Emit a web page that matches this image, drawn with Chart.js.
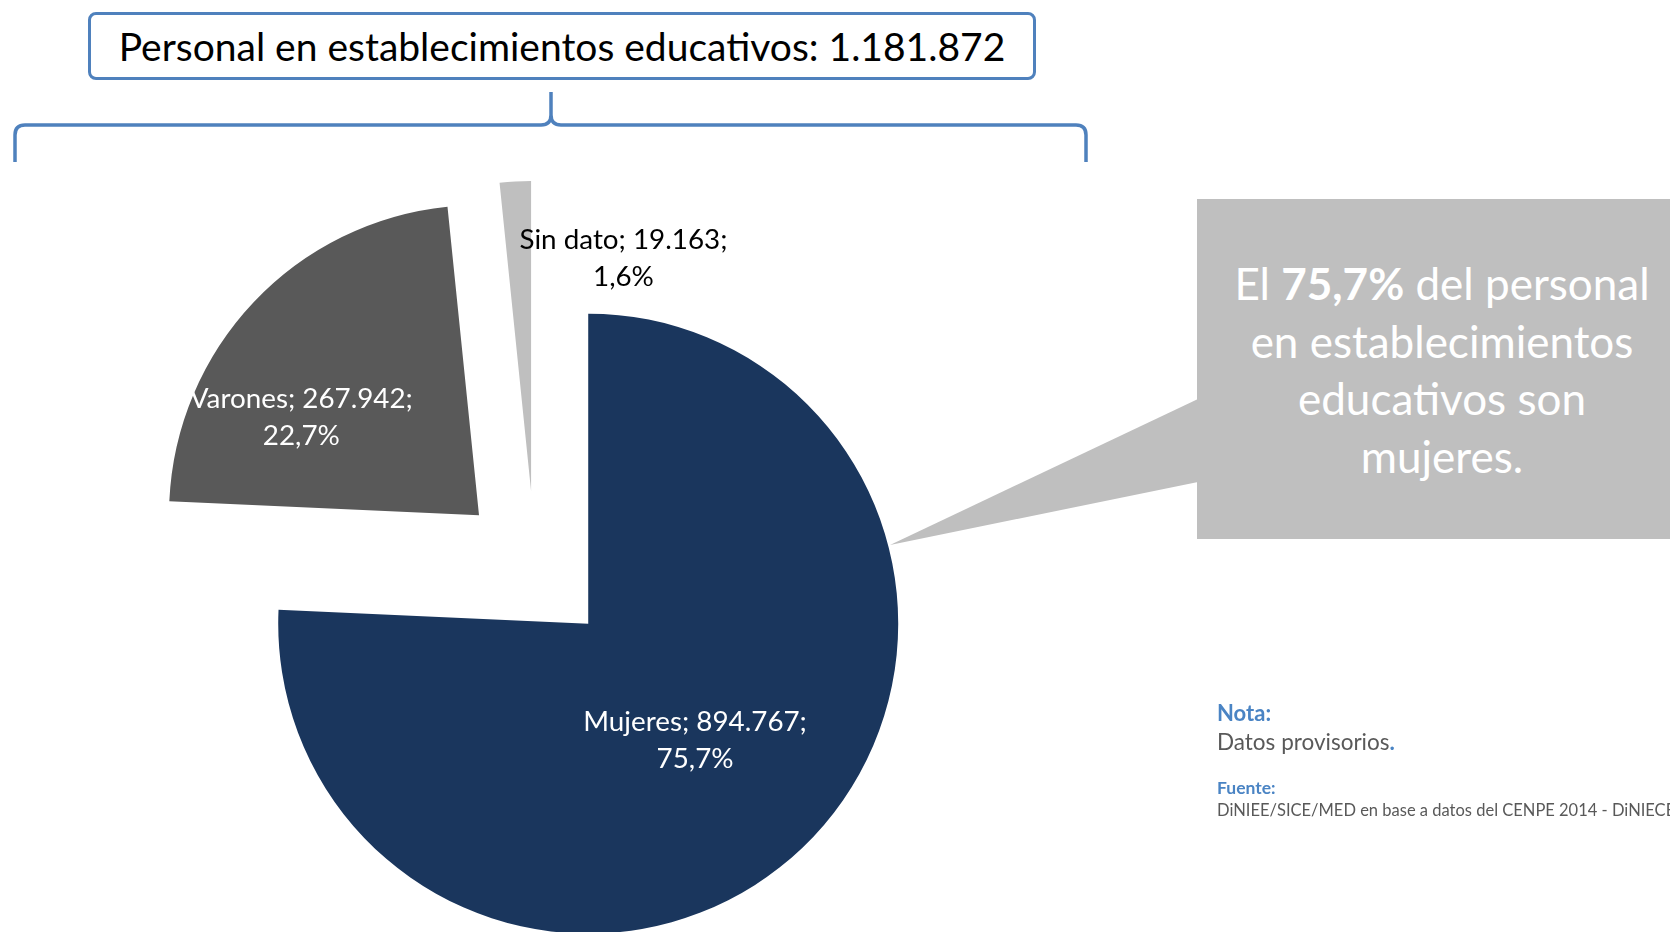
<!DOCTYPE html>
<html lang="es">
<head>
<meta charset="utf-8">
<title>Personal en establecimientos educativos</title>
<script src="https://cdn.jsdelivr.net/npm/chart.js@4.4.0/dist/chart.umd.min.js"></script>
<style>
    html, body { margin: 0; padding: 0; background: #fff; }
    body { width: 1670px; height: 932px; position: relative; overflow: hidden; font-family: Lato, 'Open Sans', sans-serif; }
    #chart-wrap { position: absolute; left: 0; top: 0; width: 1670px; height: 932px; }
    #title-box {
        position: absolute; left: 88px; top: 12px; width: 942px; height: 62px;
        border: 3px solid #4f81bd; border-radius: 8px; background: #fff;
        display: flex; align-items: center; justify-content: center;
        font-size: 39px; color: #000; white-space: nowrap;
    }
    #brace, #pointer { position: absolute; left: 0; top: 0; pointer-events: none; }
    #callout {
        position: absolute; left: 1197px; top: 199px; width: 473px; height: 340px;
        background: #bfbfbf;
    }
    #callout-text {
        position: absolute; left: 1212px; top: 255px; width: 460px;
        text-align: center; color: #fff; font-size: 44px; line-height: 57.5px;
    }
    #notes { position: absolute; left: 1217px; top: 699px; white-space: nowrap; color: #595959; }
    .blue { color: #4a84c4; font-weight: bold; }
    .n1 { font-size: 22px; line-height: 28px; }
    .n2 { font-size: 22.5px; line-height: 30px; }
    .n3 { font-size: 17.5px; line-height: 22px; margin-top: 20px; }
    .n4 { font-size: 16.5px; line-height: 22px; }
</style>
</head>
<body>
<div id="chart-wrap"><canvas id="pieChart"></canvas></div>

<svg id="brace" width="1670" height="932">
    <path d="M15,162 L15,135 Q15,125 25,125 L541,125 Q551,125 551,115 L551,92 M551,115 Q551,125 561,125 L1076,125 Q1086,125 1086,135 L1086,162"
          fill="none" stroke="#4f81bd" stroke-width="3.5"/>
</svg>

<div id="title-box"></div>

<svg id="pointer" width="1670" height="932">
    <polygon points="1198,399 1198,482 890,545" fill="#bfbfbf"/>
</svg>
<div id="callout"></div>
<div id="callout-text"></div>

<div id="notes">
    <div class="n1 blue">Nota:</div>
    <div class="n2">Datos provisorios<span class="blue">.</span></div>
    <div class="n3 blue">Fuente:</div>
    <div class="n4">DiNIEE/SICE/MED en base a datos del CENPE 2014 - DiNIECE</div>
</div>

<script>
// Datos
const categories = ['Mujeres', 'Varones', 'Sin dato'];
const values = [894767, 267942, 19163];
const sliceColors = ['#1a365d', '#595959', '#bfbfbf'];
const labelColors = ['#ffffff', '#ffffff', '#000000'];

// posición de las etiquetas: fracción del radio y giro (grados) desde el ángulo medio
const labelFrac = [0.51, 0.655, 0.81];
const labelShift = [1.2, -14.4, 24.5];

const EXPLODE = 77;   // separación de cada porción (px)
const RADIUS = 310;

function fmtThousands(n) {
    return String(n).replace(/\B(?=(\d{3})+(?!\d))/g, '.');
}

const total = values.reduce((a, b) => a + b, 0);
const percents = values.map(v => (v / total * 100).toFixed(1).replace('.', ',') + '%');

document.getElementById('title-box').textContent =
    'Personal en establecimientos educativos: ' + fmtThousands(total);
document.getElementById('callout-text').innerHTML =
    'El <b>' + percents[0] + '</b> del personal<br>en establecimientos<br>educativos son<br>mujeres.';

// porciones separadas del centro (estilo "explode" de Excel)
const baseArcDraw = Chart.ArcElement.prototype.draw;
Chart.ArcElement.prototype.draw = function(ctx) {
    const mid = (this.startAngle + this.endAngle) / 2;
    ctx.save();
    ctx.translate(Math.cos(mid) * EXPLODE, Math.sin(mid) * EXPLODE);
    baseArcDraw.call(this, ctx);
    ctx.restore();
};

const sliceLabels = {
    id: 'sliceLabels',
    afterDatasetsDraw(chart) {
        const ctx = chart.ctx;
        const meta = chart.getDatasetMeta(0);
        ctx.save();
        ctx.font = '27.8px Lato, "Open Sans", sans-serif';
        ctx.textAlign = 'center';
        ctx.textBaseline = 'middle';
        meta.data.forEach((arc, i) => {
            const mid = (arc.startAngle + arc.endAngle) / 2;
            const vx = arc.x + Math.cos(mid) * EXPLODE;
            const vy = arc.y + Math.sin(mid) * EXPLODE;
            const a = mid + labelShift[i] * Math.PI / 180;
            const r = arc.outerRadius * labelFrac[i];
            const x = vx + Math.cos(a) * r;
            const y = vy + Math.sin(a) * r;
            ctx.fillStyle = labelColors[i];
            ctx.fillText(categories[i] + '; ' + fmtThousands(values[i]) + ';', x, y - 18);
            ctx.fillText(percents[i], x, y + 19);
        });
        ctx.restore();
    }
};

const ctx = document.getElementById('pieChart').getContext('2d');
new Chart(ctx, {
    type: 'pie',
    data: {
        labels: categories,
        datasets: [{
            data: values,
            backgroundColor: sliceColors,
            borderWidth: 0,
            radius: RADIUS
        }]
    },
    options: {
        responsive: true,
        maintainAspectRatio: false,
        animation: false,
        events: [],
        layout: {
            padding: { left: 0, right: 600, top: 204, bottom: 0 }
        },
        plugins: {
            legend: { display: false },
            tooltip: { enabled: false }
        }
    },
    plugins: [sliceLabels]
});
</script>
</body>
</html>
